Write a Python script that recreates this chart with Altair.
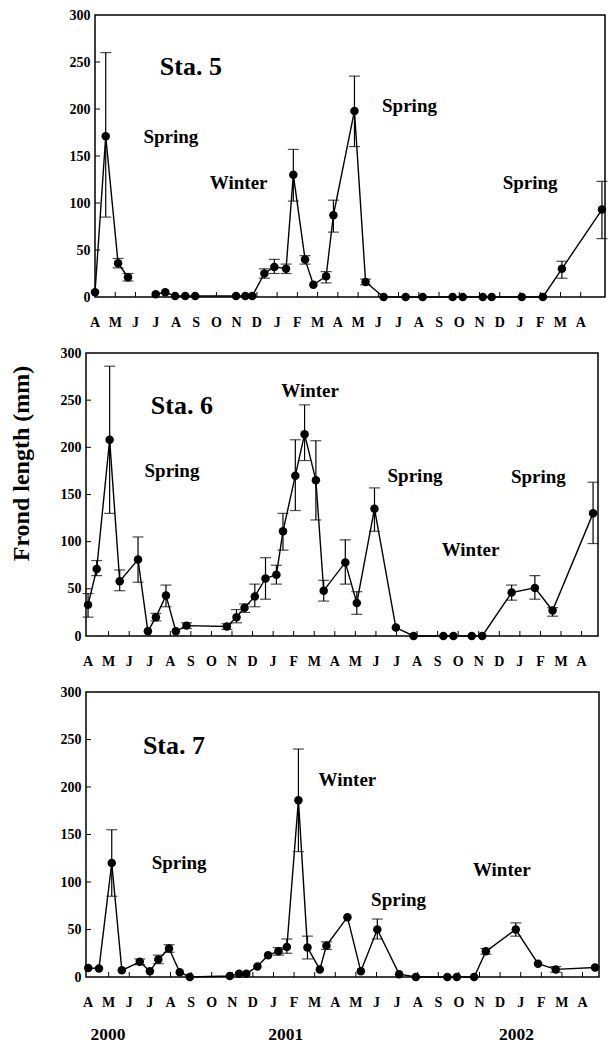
import altair as alt
import pandas as pd

MONTHS = ["A", "M", "J", "J", "A", "S", "O", "N", "D", "J", "F", "M",
          "A", "M", "J", "J", "A", "S", "O", "N", "D", "J", "F", "M", "A"]
TICK_MONTHS = list(range(25))
Y_TICKS = [0, 50, 100, 150, 200, 250, 300]
YEARS = ["2000", "2001", "2002"]
YEAR_POS = [0.97, 9.6, 20.8]

# Station 5
S5_MONTH = [0, 0.53, 1.14, 1.63, 3.0, 3.47, 3.96, 4.46, 4.95, 6.97, 7.43, 7.77,
            8.37, 8.86, 9.44, 9.80, 10.38, 10.79, 11.42, 11.78, 12.82, 13.37,
            14.26, 15.35, 16.19, 17.67, 18.17, 19.16, 19.6, 21.09, 22.13, 23.07, 25.05]
S5_LEN = [5, 171, 36, 21, 3, 5, 1, 1, 1, 1, 1, 1,
          25, 32, 30, 130, 40, 13, 22, 87, 198, 16,
          0, 0, 0, 0, 0, 0, 0, 0, 0, 30, 93]
S5_LO = [None, 85, 31, 17, None, None, None, None, None, None, None, None,
         20, 25, 25, 102, 35, None, 15, 69, 160, 13,
         None, None, None, None, None, None, None, None, None, 20, 62]
S5_HI = [None, 260, 41, 25, None, None, None, None, None, None, None, None,
         30, 40, 35, 157, 44, None, 27, 103, 235, 19,
         None, None, None, None, None, None, None, None, None, 38, 123]
S5_SEG = [0, 0, 0, 0] + [1] * 29

# Station 6
S6_MONTH = [0, 0.42, 1.05, 1.54, 2.43, 2.91, 3.30, 3.79, 4.27, 4.79, 6.75, 7.22,
            7.61, 8.11, 8.63, 9.16, 9.48, 10.08, 10.53, 11.08, 11.46, 12.51,
            13.07, 13.93, 14.97, 15.83, 17.28, 17.77, 18.66, 19.17, 20.6, 21.73,
            22.59, 24.56]
S6_LEN = [33, 71, 208, 58, 81, 5, 20, 43, 5, 11, 10, 20,
          30, 42, 61, 65, 111, 170, 214, 165, 48, 78,
          35, 135, 9, 0, 0, 0, 0, 0, 46, 51,
          27, 130]
S6_LO = [20, 64, 130, 48, 57, None, 16, 31, None, 8, 7, 14,
         25, 31, 39, 55, 91, 133, 186, 123, 37, 55,
         23, 111, None, None, None, None, None, None, 38, 39,
         21, 98]
S6_HI = [45, 80, 286, 70, 105, None, 24, 54, None, 14, 13, 28,
         34, 55, 83, 75, 130, 208, 245, 207, 59, 102,
         47, 157, None, None, None, None, None, None, 54, 64,
         30, 163]
S6_SEG = [0] * 34

# Station 7
S7_MONTH = [0.01, 0.53, 1.15, 1.64, 2.51, 3.0, 3.41, 3.93, 4.45, 4.94, 6.88, 7.33,
            7.68, 8.22, 8.74, 9.24, 9.65, 10.21, 10.65, 11.25, 11.57, 12.59,
            13.24, 14.04, 15.10, 15.91, 17.44, 17.9, 18.74, 19.31, 20.76, 21.84,
            22.70, 24.61]
S7_LEN = [9.5, 9, 120, 7, 16, 6, 18.5, 30, 5, 0, 1, 3.5,
          3.5, 11, 23, 27, 31.5, 186, 31, 8, 33, 63,
          6, 50, 3, 0, 0, 0, 0, 27, 50, 14,
          8, 10]
S7_LO = [None, None, 85, None, 13, None, 14, 26, None, None, None, None,
         None, None, None, 23, 25, 132, 19, None, 29, None,
         None, 40, None, None, None, None, None, 24, 43, None,
         5, None]
S7_HI = [None, None, 155, None, 19, None, 23, 34, None, None, None, None,
         None, None, None, 31, 40, 240, 43, None, 37, None,
         None, 61, None, None, None, None, None, 30, 57, None,
         11, None]
S7_SEG = [0] * 34

# Annotations (label, month, length)
S5_STATION = ("Sta. 5", 4.74, 245)
S5_NOTES = (["Spring", "Winter", "Spring", "Spring"], [3.75, 7.1, 15.54, 21.5], [170, 121, 203, 121])
S6_STATION = ("Sta. 6", 4.56, 244)
S6_NOTES = (["Spring", "Winter", "Spring", "Winter", "Spring"],
            [4.08, 10.8, 15.9, 18.6, 21.9], [175, 260, 170, 91, 169])
S7_STATION = ("Sta. 7", 4.17, 243)
S7_NOTES = (["Spring", "Winter", "Spring", "Winter"], [4.42, 12.59, 15.07, 20.08], [120, 207, 81, 113])

FONT = "Liberation Serif"


def panel(month, length, lo, hi, seg, station, notes, domain, width, height,
          left_off=0, show_title=False, years=False):
    pts = pd.DataFrame({"month": month, "length": length, "seg": seg})
    err = pd.DataFrame({"month": month, "lo": lo, "hi": hi}).dropna()
    xs = alt.Scale(domain=domain, nice=False, zero=False)
    ys = alt.Scale(domain=[0, 300], nice=False, zero=False)
    yax_kw = dict(values=Y_TICKS, tickSize=0, domain=False, grid=False,
                  labelPadding=5, labelFontSize=14, offset=-left_off)
    if show_title:
        yax_kw.update(title="Frond length (mm)", titlePadding=27, titleFontSize=24, titleY=110)
    else:
        yax_kw.update(title=None)
    yax = alt.Axis(**yax_kw)
    base = alt.Chart(pts)
    line = base.mark_line(color="black", strokeWidth=1.4).encode(
        x=alt.X("month:Q", scale=xs, axis=None),
        y=alt.Y("length:Q", scale=ys, axis=yax),
        detail="seg:N")
    dots = base.mark_circle(size=72, color="black", opacity=1).encode(
        x="month:Q", y="length:Q")
    ebase = alt.Chart(err)
    rules = ebase.mark_rule(color="black", strokeWidth=1.2).encode(
        x="month:Q", y="lo:Q", y2="hi:Q")
    cap_lo = ebase.mark_tick(color="black", orient="horizontal", size=11, thickness=1.2).encode(
        x="month:Q", y="lo:Q")
    cap_hi = ebase.mark_tick(color="black", orient="horizontal", size=11, thickness=1.2).encode(
        x="month:Q", y="hi:Q")
    mdf = pd.DataFrame({"month": TICK_MONTHS, "label": MONTHS})
    xt = alt.Chart(mdf[mdf["month"] > 0]).mark_rule(
        color="black", strokeWidth=1).encode(
        x="month:Q", y=alt.value(height), y2=alt.value(height - 5))
    xl = alt.Chart(mdf).mark_text(
        font=FONT, fontWeight="bold", fontSize=14, color="black", baseline="middle").encode(
        x="month:Q", y=alt.value(height + 26), text="label:N")
    yt = alt.Chart(pd.DataFrame({"v": Y_TICKS[1:-1]})).mark_rule(
        color="black", strokeWidth=1).encode(
        y="v:Q", x=alt.value(left_off), x2=alt.value(left_off + 5))
    frame = alt.Chart(pd.DataFrame({"f": [0]})).mark_rect(
        filled=False, stroke="black", strokeWidth=1.5).encode(
        x=alt.value(left_off), x2=alt.value(width), y=alt.value(0), y2=alt.value(height))
    st = alt.Chart(pd.DataFrame({"label": [station[0]], "month": [station[1]],
                                 "length": [station[2]]})).mark_text(
        font=FONT, fontWeight="bold", fontSize=26, color="black").encode(
        x="month:Q", y="length:Q", text="label:N")
    nt = alt.Chart(pd.DataFrame({"label": notes[0], "month": notes[1],
                                 "length": notes[2]})).mark_text(
        font=FONT, fontWeight="bold", fontSize=19, color="black").encode(
        x="month:Q", y="length:Q", text="label:N")
    layers = [line, xt, xl, yt, frame, rules, cap_lo, cap_hi, dots, st, nt]
    if years:
        yr = alt.Chart(pd.DataFrame({"label": YEARS, "month": YEAR_POS})).mark_text(
            font=FONT, fontWeight="bold", fontSize=17.5, color="black", baseline="middle").encode(
            x="month:Q", y=alt.value(height + 58), text="label:N")
        layers.append(yr)
    return alt.layer(*layers).properties(width=width, height=height)


p1 = panel(S5_MONTH, S5_LEN, S5_LO, S5_HI, S5_SEG, S5_STATION, S5_NOTES,
           [-0.445, 25.2], 519, 282, left_off=9)
p2 = panel(S6_MONTH, S6_LEN, S6_LO, S6_HI, S6_SEG, S6_STATION, S6_NOTES,
           [-0.1, 24.8], 512, 283, show_title=True)
p3 = panel(S7_MONTH, S7_LEN, S7_LO, S7_HI, S7_SEG, S7_STATION, S7_NOTES,
           [-0.1, 24.8], 513, 285, years=True)

chart = alt.vconcat(p1, p2, p3, spacing=14).properties(
    padding={"left": 8, "top": 7, "right": 0, "bottom": 0},
    background="white"
).configure_view(stroke="transparent").configure_axis(
    labelFont=FONT, labelFontWeight="bold", labelColor="black",
    titleFont=FONT, titleFontWeight="bold", titleColor="black"
)

chart.save("out.html", embed_options={"renderer": "svg", "actions": False})
